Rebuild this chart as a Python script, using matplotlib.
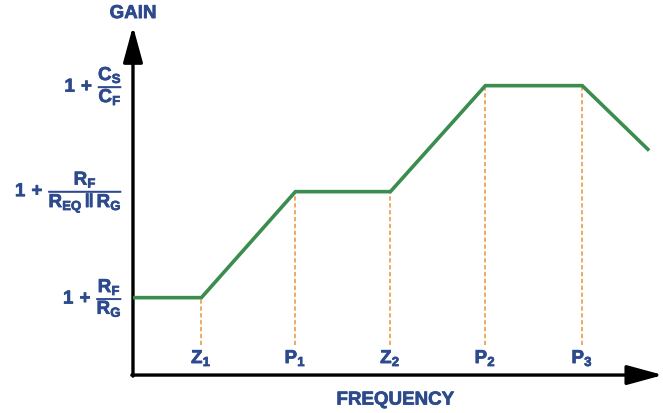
import matplotlib.pyplot as plt
import matplotlib.patheffects as pe

plt.rcParams['mathtext.fontset'] = 'custom'
plt.rcParams['mathtext.bf'] = 'Liberation Sans:bold'
plt.rcParams['mathtext.rm'] = 'Liberation Sans:bold'
plt.rcParams['mathtext.it'] = 'Liberation Sans:bold'

# piecewise gain curve (arbitrary units)
freq = [0.02, 0.72, 1.71, 2.71, 3.71, 4.73, 5.42]
gain = [1.0, 1.0, 2.0, 2.0, 3.0, 3.0, 2.4]
corner_freq = [0.72, 1.71, 2.71, 3.71, 4.73]
corner_gain = [1.0, 2.0, 2.0, 3.0, 3.0]
corner_labels = [r'$\mathbf{Z_1}$', r'$\mathbf{P_1}$', r'$\mathbf{Z_2}$',
                 r'$\mathbf{P_2}$', r'$\mathbf{P_3}$']
level_gain = [1.0, 2.0, 3.0]
level_labels = [r'$\mathbf{1\,+\,\dfrac{R_F}{R_G}}$',
                r'$\mathbf{1\,+\,\dfrac{R_F}{R_{EQ}\,\|\,R_G}}$',
                r'$\mathbf{1\,+\,\dfrac{C_S}{C_F}}$']

y0 = 0.27
blue = '#2c4a8c'
green = '#3a8d4e'
orange = '#e8953a'
bold = [pe.withStroke(linewidth=0.5, foreground=blue)]

fig = plt.figure(figsize=(6.63, 4.13), dpi=100)
ax = fig.add_axes([0, 0, 1, 1])
ax.set_xlim(-1.4, 5.58)
ax.set_ylim(y0 - 0.358, y0 + 3.538)
ax.axis('off')

# axes with arrows
ax.annotate('', xy=(0, 3.56), xytext=(0, y0 - 0.01),
            arrowprops=dict(arrowstyle='-|>,head_length=1.1,head_width=0.3',
                            lw=2.4, color='black', mutation_scale=20,
                            shrinkA=0, shrinkB=0))
ax.annotate('', xy=(5.58, y0), xytext=(-0.012, y0),
            arrowprops=dict(arrowstyle='-|>,head_length=1.1,head_width=0.3',
                            lw=2.4, color='black', mutation_scale=20,
                            shrinkA=0, shrinkB=0))

# dashed drop lines
for fx, gy in zip(corner_freq, corner_gain):
    ax.plot([fx, fx], [y0 + 0.28, gy], color=orange, lw=1.1,
            ls=(0, (2.8, 1.7)), zorder=1)

ax.plot(freq, gain, color=green, lw=2.6, solid_joinstyle='miter', zorder=3)

for fx, lab in zip(corner_freq, corner_labels):
    ax.text(fx, y0 + 0.16, lab, color=blue, fontsize=13.5,
            ha='center', va='center', path_effects=bold)

for gy, lab in zip(level_gain, level_labels):
    ax.text(-0.105, gy, lab, color=blue, fontsize=13.5,
            ha='right', va='center', path_effects=bold)

ax.text(0, 3.68, 'GAIN', color=blue, fontsize=13.5, fontweight='bold',
        family='Liberation Sans', ha='center', va='center', path_effects=bold)
ax.text(2.76, y0 - 0.236, 'FREQUENCY', color=blue, fontsize=13.5,
        fontweight='bold', family='Liberation Sans', ha='center', va='center',
        path_effects=bold)

fig.savefig('out.png', dpi=100)
